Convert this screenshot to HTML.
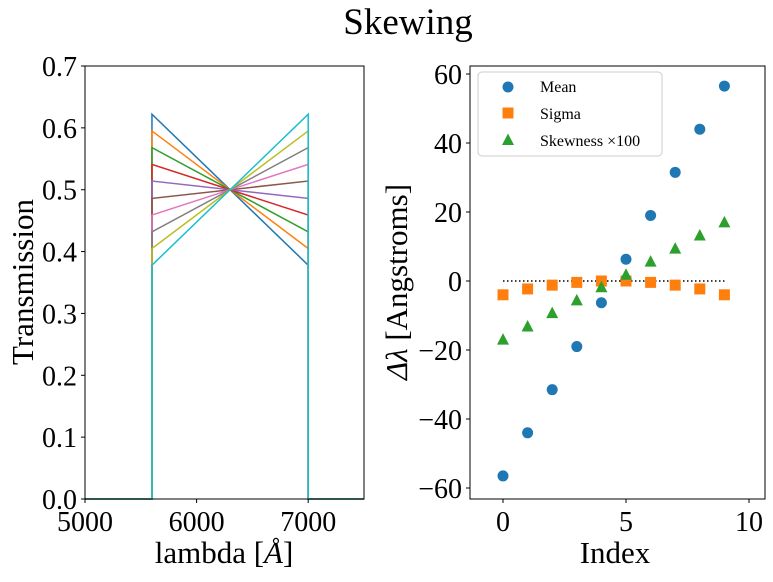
<!DOCTYPE html>
<html><head><meta charset="utf-8"><style>
body{margin:0;background:#fff;width:773px;height:577px;overflow:hidden}
svg text{font-family:"Liberation Serif",serif;fill:#000}
</style></head><body>
<svg id="c" width="773" height="577" xmlns="http://www.w3.org/2000/svg">
<text x="408" y="34" font-size="37" text-anchor="middle">Skewing</text>
<g id="L"></g><g id="R"></g>
</svg>
<script>
const leftStart=[0.622,0.595,0.568,0.541,0.514,0.486,0.459,0.432,0.405,0.378];
const leftColors=["#1f77b4","#ff7f0e","#2ca02c","#d62728","#9467bd","#8c564b","#e377c2","#7f7f7f","#bcbd22","#17becf"];
const leftXTicks=[5000,6000,7000];
const leftYTicks=[0,0.1,0.2,0.3,0.4,0.5,0.6,0.7];
const idx=[0,1,2,3,4,5,6,7,8,9];
const meanVals=[-56.5,-44,-31.5,-19,-6.3,6.3,19,31.5,44,56.5];
const sigmaVals=[-4,-2.3,-1.2,-0.4,0,0,-0.4,-1.2,-2.3,-4];
const skewVals=[-17,-13.2,-9.3,-5.6,-1.8,1.8,5.6,9.4,13.2,17];
const rightXTicks=[0,5,10];
const rightYTicks=[-60,-40,-20,0,20,40,60];
const NS="http://www.w3.org/2000/svg";
function mk(p,t,a){const e=document.createElementNS(NS,t);for(const k in a)e.setAttribute(k,a[k]);p.appendChild(e);return e;}
const L=document.getElementById('L'),R=document.getElementById('R');
// left axes
const lx=v=>85+(v-5000)*(279/2500), ly=v=>499-v*(433/0.7);
leftStart.forEach((v,i)=>{
 const pts=[[5000,0],[5600,0],[5600,v],[7000,1-v],[7000,0],[7500,0]].map(p=>lx(p[0])+','+ly(p[1])).join(' ');
 const e=mk(L,'polyline',{points:pts,fill:'none',stroke:leftColors[i],'stroke-width':1.5});
 
 
});
let f=mk(L,'rect',{x:85,y:66,width:279,height:433,fill:'none',stroke:'#000','stroke-width':1});

leftXTicks.forEach(t=>{mk(L,'line',{x1:lx(t),x2:lx(t),y1:499,y2:503,stroke:'#000'});
 const e=mk(L,'text',{x:lx(t),y:531,'font-size':28,'text-anchor':'middle'});e.textContent=t;
 });
leftYTicks.forEach(t=>{mk(L,'line',{x1:81,x2:85,y1:ly(t),y2:ly(t),stroke:'#000'});
 const e=mk(L,'text',{x:77,y:ly(t)+10,'font-size':28,'text-anchor':'end'});e.textContent=t.toFixed(1);
 });
let t1=mk(L,'text',{x:224,y:563,'font-size':31,'text-anchor':'middle'});t1.innerHTML='lambda [<tspan font-style="italic">Å</tspan>]';

let t2=mk(L,'text',{x:0,y:0,'font-size':31,'text-anchor':'middle',transform:'translate(33,282) rotate(-90)'});t2.textContent='Transmission';

// right axes
const rx=v=>503+v*24.6, ry=v=>281-v*(69/20);
mk(R,'line',{x1:rx(0),x2:rx(9),y1:ry(0),y2:ry(0),stroke:'#000','stroke-dasharray':'1.5,2.5','stroke-width':1.5});
idx.forEach(i=>{
 let c=mk(R,'circle',{cx:rx(i),cy:ry(meanVals[i]),r:5.5,fill:'#1f77b4'});
 
 let s=mk(R,'rect',{x:rx(i)-5.5,y:ry(sigmaVals[i])-5.5,width:11,height:11,fill:'#ff7f0e'});
 
 const x=rx(i),y=ry(skewVals[i]);
 let g=mk(R,'polygon',{points:`${x},${y-6.5} ${x-6},${y+5} ${x+6},${y+5}`,fill:'#2ca02c'});
 
});
f=mk(R,'rect',{x:470,y:66,width:295,height:433,fill:'none',stroke:'#000','stroke-width':1});

rightXTicks.forEach(t=>{mk(R,'line',{x1:rx(t),x2:rx(t),y1:499,y2:503,stroke:'#000'});
 const e=mk(R,'text',{x:rx(t),y:531,'font-size':28,'text-anchor':'middle'});e.textContent=t;
 });
rightYTicks.forEach(t=>{mk(R,'line',{x1:466,x2:470,y1:ry(t),y2:ry(t),stroke:'#000'});
 const e=mk(R,'text',{x:462,y:ry(t)+10,'font-size':28,'text-anchor':'end'});e.textContent=(t<0?'\u2212'+(-t):t);
 });
let t3=mk(R,'text',{x:615,y:563,'font-size':31,'text-anchor':'middle'});t3.textContent='Index';

let t4=mk(R,'text',{x:0,y:0,'font-size':31,'text-anchor':'middle',transform:'translate(407,282) rotate(-90)'});
t4.innerHTML='<tspan font-style="italic">Δλ</tspan> [Angstroms]';

// legend
const lg=mk(R,'g',{});
mk(lg,'rect',{x:478,y:72,width:184,height:84,rx:4,fill:'#fff',stroke:'#ccc'});
mk(lg,'circle',{cx:508,cy:87,r:5.5,fill:'#1f77b4'});
mk(lg,'rect',{x:502.5,y:107.5,width:11,height:11,fill:'#ff7f0e'});
mk(lg,'polygon',{points:'508,133.5 502,145 514,145',fill:'#2ca02c'});
[['Mean',92],['Sigma',119],['Skewness ×100',146]].forEach(([s,y])=>{const e=mk(lg,'text',{x:540,y:y,'font-size':16});e.textContent=s;
 });
</script>
</body></html>
